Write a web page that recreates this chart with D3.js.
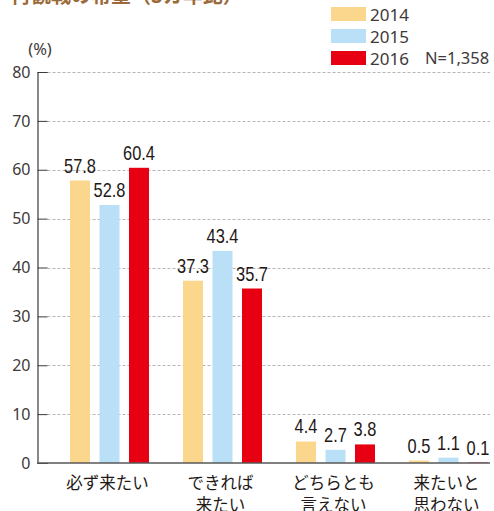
<!DOCTYPE html>
<html>
<head>
<meta charset="utf-8">
<script src="https://cdn.jsdelivr.net/npm/d3@7/dist/d3.min.js"></script>
<style>
  body { margin: 0; background: #fff; }
  svg { display: block; font-family: "Noto Sans CJK JP", "Noto Sans", sans-serif; }
</style>
</head>
<body>
<div id="chart-area"></div>
<script>
// data
var categories = [['必ず来たい'], ['できれば', '来たい'], ['どちらとも', '言えない'], ['来たいと', '思わない']];
var years = ['2014', '2015', '2016'];
var values2014 = [57.8, 37.3, 4.4, 0.5];
var values2015 = [52.8, 43.4, 2.7, 1.1];
var values2016 = [60.4, 35.7, 3.8, 0.1];
var yTicks = [0, 10, 20, 30, 40, 50, 60, 70, 80];

var def = {
    width: 494,
    height: 511,
    left: 37.5,
    top: 72,
    bottom: 463,
    ink: '#231815',
    grey: '#3e3a39'
};
var colors = ['#fad78c', '#b9e0f7', '#e60012'];
var series = [values2014, values2015, values2016];

var svg = d3.select('#chart-area').append('svg')
    .attr('width', def.width)
    .attr('height', def.height);

// title (cut off at the top in the source)
svg.append('text')
    .attr('x', 11)
    .attr('y', 3)
    .attr('font-size', '20px')
    .attr('font-weight', 'bold')
    .attr('fill', '#9b6a3b')
    .text('再観戦の希望（3カ年比）');

var y = d3.scaleLinear()
    .domain([0, 80])
    .range([def.bottom, def.top]);

var x0 = d3.scaleBand()
    .domain(d3.range(categories.length))
    .range([53, 505]);

var x1 = d3.scaleBand()
    .domain(years)
    .range([x0.bandwidth() / 2 - 39.5, x0.bandwidth() / 2 + 39.5])
    .paddingInner(0.322);

// gridlines
svg.append('g').selectAll('line')
    .data(yTicks.filter(d => d > 0))
    .enter().append('line')
    .attr('x1', def.left + 10)
    .attr('x2', 490)
    .attr('y1', d => Math.round(y(d)) + 0.5)
    .attr('y2', d => Math.round(y(d)) + 0.5)
    .attr('stroke', '#b5b5b5')
    .attr('stroke-dasharray', '3,2');

// y axis
var yAx = d3.axisRight(y)
    .tickValues(yTicks)
    .tickSize(10)
    .tickFormat(d3.format('d'));
var yUnit = svg.append('g')
    .attr('transform', 'translate(' + def.left + ',0)')
    .call(yAx);
yUnit.select('.domain').attr('stroke', def.grey).attr('stroke-width', 1.2);
yUnit.selectAll('.tick line').attr('stroke', def.grey);
yUnit.selectAll('.tick text')
    .attr('x', -7)
    .attr('text-anchor', 'end')
    .attr('font-size', '16px')
    .attr('font-family', '"Noto Sans", sans-serif')
    .attr('fill', def.grey);

svg.append('text')
    .attr('x', 40)
    .attr('y', 55)
    .attr('text-anchor', 'middle')
    .attr('font-size', '16.5px')
    .attr('font-family', '"Noto Sans", sans-serif')
    .attr('fill', def.grey)
    .text('(%)');

// bars
var groups = svg.append('g').selectAll('g')
    .data(categories)
    .enter().append('g')
    .attr('transform', (d, i) => 'translate(' + x0(i) + ',0)');

years.forEach(function (yr, s) {
    groups.append('rect')
        .attr('x', x1(yr))
        .attr('width', x1.bandwidth())
        .attr('y', (d, i) => y(series[s][i]))
        .attr('height', (d, i) => def.bottom - y(series[s][i]))
        .attr('fill', colors[s]);

    // condensed numerals: squeeze horizontally
    groups.append('text')
        .attr('transform', (d, i) => 'translate(' + (x1(yr) + x1.bandwidth() / 2) + ',' + (y(series[s][i]) - 8) + ') scale(0.82,1)')
        .attr('text-anchor', 'middle')
        .attr('font-size', '20px')
        .attr('font-family', '"Liberation Sans", Arial, sans-serif')
        .attr('fill', def.ink)
        .text((d, i) => series[s][i].toFixed(1));
});

// baseline
svg.append('line')
    .attr('x1', def.left)
    .attr('x2', 490)
    .attr('y1', def.bottom)
    .attr('y2', def.bottom)
    .attr('stroke', '#595757')
    .attr('stroke-width', 1.5);

// category labels
groups.each(function (lines) {
    var t = d3.select(this).append('text')
        .attr('text-anchor', 'middle')
        .attr('font-size', '16.5px')
        .attr('fill', def.ink);
    lines.forEach(function (l, k) {
        t.append('tspan')
            .attr('x', x0.bandwidth() / 2 - 2)
            .attr('y', 489 + k * 22)
            .text(l);
    });
});

// legend
var legend = svg.append('g').selectAll('g')
    .data(years)
    .enter().append('g')
    .attr('transform', (d, i) => 'translate(331,' + (7 + i * 22) + ')');
legend.append('rect')
    .attr('width', 35)
    .attr('height', 14)
    .attr('fill', (d, i) => colors[i]);
legend.append('text')
    .attr('x', 39)
    .attr('y', 13.5)
    .attr('font-size', '17px')
    .attr('font-family', '"Noto Sans", sans-serif')
    .attr('fill', def.grey)
    .text(d => d);
svg.append('text')
    .attr('x', 425)
    .attr('y', 64)
    .attr('font-size', '16.5px')
    .attr('font-family', '"Noto Sans", sans-serif')
    .attr('fill', def.grey)
    .text('N=1,358');
</script>
</body>
</html>
